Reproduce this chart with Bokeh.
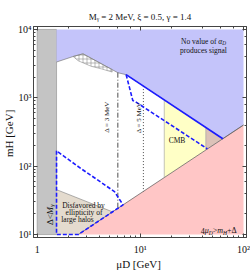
import math
from bokeh.plotting import figure
from bokeh.models import Label, LogAxis, LogTicker, CustomJSTickFormatter
from bokeh.embed import file_html
from bokeh.resources import INLINE

# ---------------- data ----------------
gray_left, gray_right = [1.0], [1.54]
gray_bottom, gray_top = [10.0], [10000.0]

blue_x = [1.54, 2.23, 2.78, 6.05, 7.28, 63.0, 100.0, 100.0, 1.54]
blue_y = [3340, 4020, 4400, 2330, 2180, 252, 400, 10000, 10000]

pink_x = [2.5, 100.0, 100.0]
pink_y = [10.0, 400.0, 10.0]

tan_x = [1.54, 5.37, 2.5, 1.54]
tan_y = [45.4, 21.5, 10.0, 10.0]

cmb_x = [17.05, 43.1, 43.1, 17.05]
cmb_y = [940, 369, 172.4, 68.2]

rose_x = [43.1, 63.0, 43.1]
rose_y = [369, 252, 172.4]

hatch_x = [2.23, 2.78, 5.33, 5.33, 4.18, 3.34, 2.49]
hatch_y = [4020, 4400, 2590, 2380, 2655, 2890, 3490]

solid_x = [7.28, 63.0]
solid_y = [2180, 252]

dash1_x = [7.28, 8.45, 9.09, 44.7]
dash1_y = [2180, 914, 863, 179]

dash2_x = [1.54, 1.54, 2.5, 6.8, 5.61, 3.88, 2.68, 1.54]
dash2_y = [167.5, 10.0, 10.0, 27.2, 42.5, 62.5, 91.4, 167.5]

delta3_x = [6.05, 6.05]
delta3_y = [2330, 24.2]
delta5_x = [10.7, 10.7]
delta5_y = [1485, 42.8]

x_tick_labels = {1: "1", 10: "10\u00b9", 100: "10\u00b2"}
y_tick_labels = {10: "10\u00b9", 100: "10\u00b2", 1000: "10\u00b3", 10000: "10\u2074"}

TITLE = "M\u1d67 = 2 MeV, \u03be = 0.5, \u03b3 = 1.4"
X_LABEL = "\u03bcD  [GeV]"
Y_LABEL = "mH  [GeV]"

# ---------------- figure ----------------
FONT = "Liberation Serif"
p = figure(x_axis_type="log", y_axis_type="log",
           x_range=(0.921, 106.9), y_range=(9.06, 11040),
           width=250, height=272,
           min_border_left=32, min_border_right=4, min_border_top=26, min_border_bottom=30,
           output_backend="svg", toolbar_location=None)
p.title.visible = False
p.background_fill_color = "white"
p.border_fill_color = "white"
p.outline_line_color = "#444444"
p.xgrid.visible = False
p.ygrid.visible = False

def style_axis(ax, labels=None):
    ax.major_tick_in = 4
    ax.major_tick_out = 0
    ax.minor_tick_in = 2
    ax.minor_tick_out = 0
    ax.axis_line_color = "#444444"
    ax.major_tick_line_color = "#444444"
    ax.minor_tick_line_color = "#444444"
    ax.major_label_text_font = FONT
    ax.major_label_text_color = "#111111"
    ax.axis_label_text_font = FONT
    ax.axis_label_text_font_size = "11px"
    ax.axis_label_text_font_style = "normal"
    ax.axis_label_text_color = "#111111"
    if labels is None:
        ax.formatter = CustomJSTickFormatter(code="return ''")
        ax.major_label_text_font_size = "1px"
        ax.major_label_standoff = 0
    else:
        ax.major_label_text_font_size = "10px"
        ax.major_label_overrides = labels

xa = p.xaxis[0]
ya = p.yaxis[0]
style_axis(xa, x_tick_labels)
style_axis(ya, y_tick_labels)
xa.major_label_standoff = 6
xa.axis_label = X_LABEL
xa.axis_label_standoff = 0
ya.major_label_standoff = 2
ya.axis_label = Y_LABEL
ya.axis_label_standoff = 0

top_ax = LogAxis(ticker=LogTicker())
right_ax = LogAxis(ticker=LogTicker())
style_axis(top_ax)
style_axis(right_ax)
top_ax.axis_label = TITLE
top_ax.axis_label_text_font_size = "9px"
top_ax.axis_label_standoff = 5
p.add_layout(top_ax, "above")
p.add_layout(right_ax, "right")

EDGE = "#7a7a7a"
# regions
p.quad(left=gray_left, right=gray_right, bottom=gray_bottom, top=gray_top,
       fill_color="#c4c4c4", line_color="#8a8a8a", line_width=0.6)
p.patch(blue_x, blue_y, fill_color="#c4c4fa", line_color=None)
p.patch(pink_x, pink_y, fill_color="#ffc6c6", line_color=None)
p.patch(tan_x, tan_y, fill_color="#e4dbce", line_color=None)
p.patch(cmb_x, cmb_y, fill_color="#ffffc6", line_color=None)
p.patch(rose_x, rose_y, fill_color="#dcc2b8", line_color=None)
p.patch(hatch_x, hatch_y, fill_color="white", line_color=EDGE, line_width=0.5,
        hatch_pattern="+", hatch_color="#8c8c8c", hatch_scale=4.0, hatch_weight=0.6)

# boundaries
p.line(blue_x[:7], blue_y[:7], line_color=EDGE, line_width=0.7)
p.line(pink_x[:2], pink_y[:2], line_color="#555555", line_width=0.7)
p.line(tan_x[:2], tan_y[:2], line_color=EDGE, line_width=0.6)
p.line([cmb_x[0], cmb_x[3]], [cmb_y[0], cmb_y[3]], line_color="#9a9a9a", line_width=0.6)
p.line([rose_x[0], rose_x[2]], [rose_y[0], rose_y[2]], line_color="#9a9a9a", line_width=0.6)

# delta lines
p.line(delta3_x, delta3_y, line_color="#222222", line_width=0.8, line_dash="5 2 1 2")
p.line(delta5_x, delta5_y, line_color="#222222", line_width=0.8, line_dash="1 2")

# blue curves
BLUE = "#1c1cff"
p.line(dash2_x, dash2_y, line_color=BLUE, line_width=1.6, line_dash="4 2")
p.line(dash1_x, dash1_y, line_color=BLUE, line_width=1.6, line_dash="4 2")
p.line(solid_x, solid_y, line_color=BLUE, line_width=1.6)

# ---------------- texts inside the frame ----------------
W = {' ': .25, '=': .564, '<': .564, '>': .564, '+': .564, '[': .333, ']': .333, ',': .25, '.': .25,
     'A': .722, 'B': .667, 'C': .667, 'D': .722, 'G': .722, 'H': .722, 'M': .85, 'N': .722, 'V': .722,
     'Δ': .612, 'a': .444, 'b': .5, 'c': .444, 'd': .5, 'e': .444, 'f': .333, 'g': .5, 'h': .5,
     'i': .278, 'l': .278, 'm': .722, 'n': .5, 'o': .5, 'p': .5, 'r': .333, 's': .389, 't': .278,
     'u': .5, 'v': .5, 'y': .5, 'α': .52, 'μ': .5, 'ξ': .45, 'γ': .45}

def lab(x, y, text, size, style="normal", align="center", baseline="alphabetic", angle=0.0):
    p.add_layout(Label(x=x, y=y, x_units="screen", y_units="screen", text=text,
                       text_font=FONT, text_font_size=f"{size}px", text_font_style=style,
                       text_align=align, text_baseline=baseline, angle=angle,
                       text_color="#111111"))

def rich(parts, x, y, size, align="center", rotate=False):
    items = []
    for t, st, sub in parts:
        s = size * 0.7 if sub else size
        w = sum(W.get(c, 0.5) for c in t) * s
        items.append((t, st, sub, s, w))
    total = sum(it[4] for it in items)
    pos = {"center": -total / 2, "left": 0.0, "right": -total}[align]
    for t, st, sub, s, w in items:
        off = 0.22 * size if sub else 0.0
        if rotate:
            lab(x + off, y + pos, t, round(s, 2), st, "left", "alphabetic", math.pi / 2)
        else:
            lab(x + pos, y - off, t, round(s, 2), st, "left", "alphabetic")
        pos += w

rich([("No value of ", "normal", 0), ("α", "italic", 0), ("D", "italic", 1)], 170, 196, 7.5)
lab(170, 187, "produces signal", 7.5)
lab(143.5, 97.5, "CMB", 7.5)
lab(73, 120.5, "Δ = 3 MeV", 7, baseline="middle", angle=math.pi / 2)
lab(105.5, 120, "Δ = 5 MeV", 7, baseline="middle", angle=math.pi / 2)
lab(50, 32, "Disfavored by", 7.5, baseline="middle")
lab(50.5, 24.7, "ellipticity of", 7.5, baseline="middle")
lab(44, 18, "large halos", 7.5, baseline="middle")
rich([("Δ<", "normal", 0), ("M", "italic", 0), ("γ", "italic", 1)], 16.5, 23, 9, rotate=True)
rich([("4", "normal", 0), ("μ", "italic", 0), ("D", "italic", 1), (">", "normal", 0), ("m", "italic", 0),
      ("H", "italic", 1), ("+Δ", "normal", 0)], 203, 6.6, 8, align="right")

open("out.html", "w").write(file_html(p, INLINE))
